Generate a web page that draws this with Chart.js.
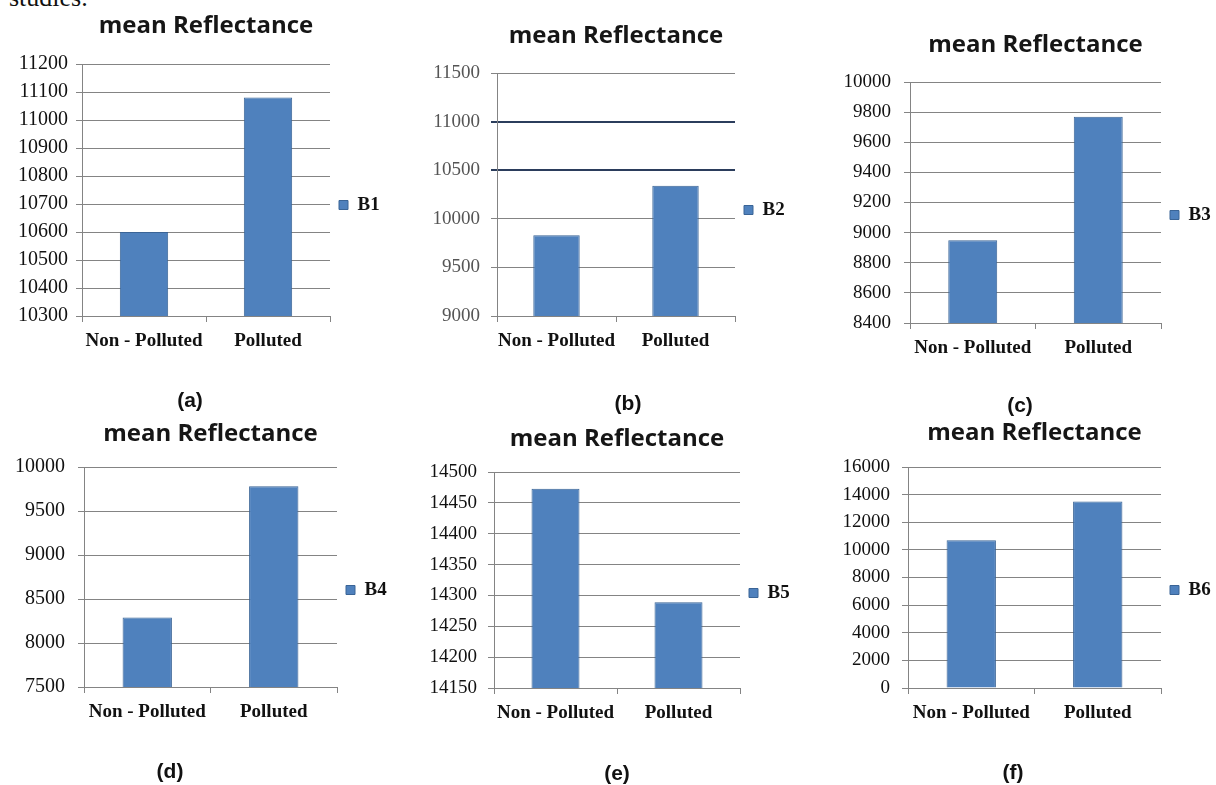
<!DOCTYPE html>
<html>
<head>
<meta charset="utf-8">
<title>mean Reflectance</title>
<script src="https://cdn.jsdelivr.net/npm/chart.js@4.4.1/dist/chart.umd.min.js"></script>
<style>
  html, body { margin: 0; padding: 0; background: #fff; }
  body { width: 1216px; height: 785px; position: relative; overflow: hidden; }
  canvas { position: absolute; }
  .tag { position: absolute; transform: translate(-50%, -50%); font: bold 21px 'Liberation Sans', Arial, sans-serif; color: #111; white-space: nowrap; }
  .lead { position: absolute; left: 9px; top: -15px; font: 26px/26px 'Liberation Serif', serif; color: #111; }
</style>
</head>
<body>
<div class="lead">studies.</div>
<script>
// ── DATA ───────────────────────────────────────────────
const CATEGORIES = ['Non - Polluted', 'Polluted'];
const BANDS      = ['B1', 'B2', 'B3', 'B4', 'B5', 'B6'];
const TAGS       = ['(a)', '(b)', '(c)', '(d)', '(e)', '(f)'];

const B1_VALUES = [10600, 11080];
const B2_VALUES = [9830, 10340];
const B3_VALUES = [8950, 9770];
const B4_VALUES = [8290, 9780];
const B5_VALUES = [14473, 14289];
const B6_VALUES = [10690, 13500];
const VALUES = [B1_VALUES, B2_VALUES, B3_VALUES, B4_VALUES, B5_VALUES, B6_VALUES];

const Y_MIN  = [10300, 9000, 8400, 7500, 14150, 0];
const Y_MAX  = [11200, 11500, 10000, 10000, 14500, 16000];
const Y_STEP = [100, 500, 200, 500, 50, 2000];

// ── STYLE ──────────────────────────────────────────────
const BAR      = '#4F81BD';
const BAR_EDGE = '#3A6496';
const GRID     = '#848484';
const INK      = '#111';
const SERIF    = "'Liberation Serif', 'Times New Roman', serif";
const TITLE_FONT = "'Open Sans', 'Noto Sans', sans-serif";

const Y_AXIS_W = 70;   // room for tick labels left of the plot
const LEGEND_W = 55;   // room for the legend right of the plot

// panel layout: plot box [left, top, right, bottom] in page pixels
const PANELS = [
  { plot: [82, 64, 330, 316],   titleY: 26,  legendY: 205, tickSize: 20, tickPad: 8,  tag: [190, 400] },
  { plot: [497, 73, 735, 316],  titleY: 36,  legendY: 210, tickSize: 19, tickPad: 11, tag: [628, 403], tickColor: '#555', darkGrid: [10500, 11000] },
  { plot: [910, 82, 1161, 323], titleY: 45,  legendY: 215, tickSize: 19, tickPad: 13, tag: [1020, 405] },
  { plot: [84, 467, 337, 687],  titleY: 434, legendY: 590, tickSize: 20, tickPad: 13, tag: [170, 771] },
  { plot: [494, 472, 740, 688], titleY: 439, legendY: 593, tickSize: 19, tickPad: 11, tag: [617, 773] },
  { plot: [908, 467, 1161, 688],titleY: 433, legendY: 590, tickSize: 19, tickPad: 12, tag: [1013, 772] },
];

Chart.defaults.font.family = SERIF;
Chart.defaults.color = INK;

PANELS.forEach((p, i) => buildPanel(p, i));

function buildPanel(p, i) {
  const [L, T, R, B] = p.plot;
  const left = L - Y_AXIS_W;
  const top  = p.titleY - 18;
  const width  = Y_AXIS_W + (R - L) + LEGEND_W;
  const height = Math.round(2 * (p.legendY - top));
  const xAxisH = top + height - B;

  const canvas = document.createElement('canvas');
  canvas.width = width;
  canvas.height = height;
  canvas.style.left = left + 'px';
  canvas.style.top = top + 'px';
  document.body.appendChild(canvas);

  const tag = document.createElement('div');
  tag.className = 'tag';
  tag.textContent = TAGS[i];
  tag.style.left = p.tag[0] + 'px';
  tag.style.top = p.tag[1] + 'px';
  document.body.appendChild(tag);

  const dark = p.darkGrid || [];

  new Chart(canvas.getContext('2d'), {
    type: 'bar',
    data: {
      labels: CATEGORIES,
      datasets: [{
        label: BANDS[i],
        data: VALUES[i],
        backgroundColor: BAR,
        borderColor: BAR_EDGE,
        borderWidth: 1,
        barPercentage: 0.39,
        categoryPercentage: 1,
      }]
    },
    options: {
      responsive: false,
      animation: false,
      layout: { padding: 0 },
      plugins: {
        title: {
          display: true,
          text: 'mean Reflectance',
          fullSize: false,
          color: '#161616',
          font: { family: TITLE_FONT, size: 24, weight: 'bold', lineHeight: 1.2 },
          padding: { top: 4, bottom: (T - top) - 4 - 28.8 },
        },
        legend: {
          position: 'right',
          fullSize: true,
          maxWidth: LEGEND_W,
          labels: {
            boxWidth: 9,
            boxHeight: 9,
            padding: 9,
            color: INK,
            font: { family: SERIF, size: 19, weight: 'bold' },
          }
        },
        tooltip: { enabled: false }
      },
      scales: {
        x: {
          afterFit: s => { s.height = xAxisH; },
          grid: { offset: true, drawOnChartArea: false, tickLength: 6, color: GRID },
          border: { color: GRID, width: 1 },
          ticks: {
            color: INK,
            padding: 8,
            maxRotation: 0,
            minRotation: 0,
            autoSkip: false,
            font: { family: SERIF, size: 19, weight: 'bold' },
          }
        },
        y: {
          min: Y_MIN[i],
          max: Y_MAX[i],
          afterFit: s => { s.width = Y_AXIS_W; },
          grid: {
            tickLength: 6,
            color: c => dark.includes(c.tick && c.tick.value) ? '#2b3d5c' : GRID,
            lineWidth: c => dark.includes(c.tick && c.tick.value) ? 2 : 1,
          },
          border: { color: GRID, width: 1 },
          ticks: {
            stepSize: Y_STEP[i],
            padding: p.tickPad,
            color: p.tickColor || INK,
            font: { family: SERIF, size: p.tickSize },
            callback: v => String(v),
          }
        }
      }
    }
  });
}
</script>
</body>
</html>
